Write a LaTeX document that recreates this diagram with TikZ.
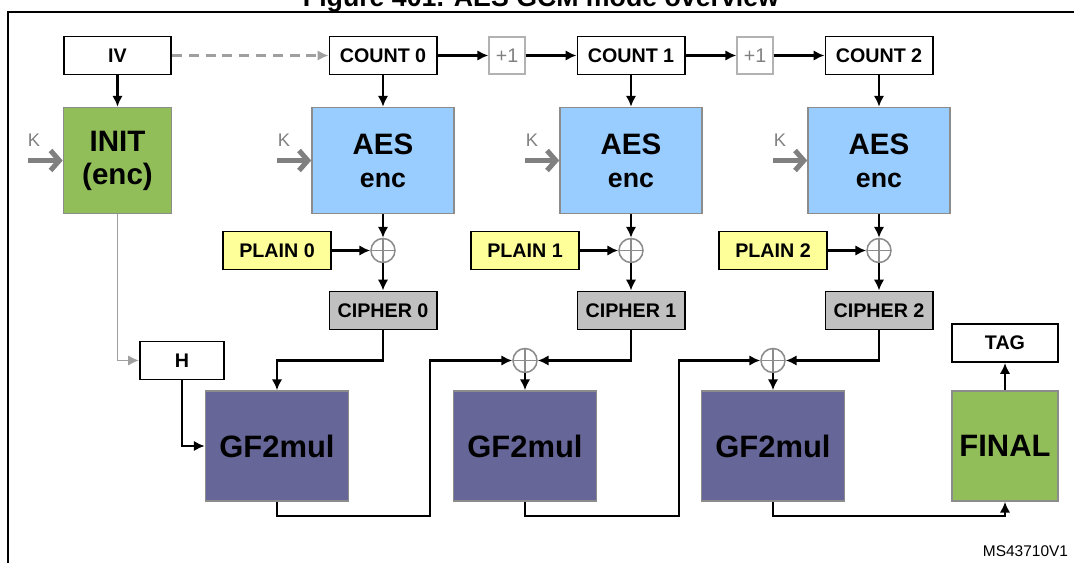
\documentclass[tikz,border=0pt]{standalone}
\usepackage{fontspec}
\setmainfont{Liberation Sans}
\usetikzlibrary{arrows.meta}
\definecolor{initgreen}{RGB}{146,190,90}
\definecolor{aesblue}{RGB}{153,204,255}
\definecolor{gfpurple}{RGB}{102,102,153}
\definecolor{plainyel}{RGB}{255,255,153}
\definecolor{ciphgray}{RGB}{192,192,192}
\definecolor{edgegray}{RGB}{140,140,140}
\tikzset{
  lbl/.style  = {draw=black, line width=1.4pt, rectangle, align=center,
                 inner sep=0pt, minimum width=2.675cm, minimum height=0.95cm,
                 font=\fontsize{14}{16}\selectfont\bfseries},
  inc/.style  = {draw=gray!60, line width=1pt, rectangle, inner sep=0pt,
                 minimum width=0.9cm, minimum height=0.925cm, text=gray,
                 font=\fontsize{14}{16}\selectfont},
  big/.style  = {draw=edgegray, line width=1.1pt, rectangle, align=center,
                 inner sep=0pt, minimum height=2.65cm,
                 font=\fontsize{21}{23.5}\selectfont\bfseries},
  xor/.style  = {circle, draw=edgegray, line width=1.1pt, minimum size=0.6cm,
                 inner sep=0pt,
                 path picture={\draw[edgegray, line width=0.9pt]
                   (path picture bounding box.north) -- (path picture bounding box.south)
                   (path picture bounding box.west) -- (path picture bounding box.east);}},
  klbl/.style = {text=gray, font=\fontsize{13}{15}\selectfont},
  ar/.style   = {-{Latex[length=2.7mm,width=2.6mm]}, line width=1.6pt},
  gar/.style  = {-{Latex[length=2.7mm,width=2.6mm]}, line width=1.4pt, draw=gray!75},
  kar/.style  = {-{Straight Barb[length=2.2mm,width=5mm]}, line width=3.6pt, draw=gray},
}
\begin{document}
\begin{tikzpicture}[x=0.025cm, y=-0.025cm]
\useasboundingbox (0,0) rectangle (1074,563);
%% ---- caption and frame -----------------------------------------------
\node[font=\fontsize{19}{22}\selectfont\bfseries, anchor=base] (title) at (541,6.5)
  {Figure 401. AES GCM mode overview};
\draw[line width=1.2pt] (1074,12) -- (8,12) -- (8,563);

%% ---- counter row -----------------------------------------------------
\node[lbl] (iv)   at (117.5,55.5) {IV};
\node[lbl] (cnt0) at (383,55.5) {COUNT 0};
\node[inc] (inc0) at (507,55.5) {+1};
\node[lbl] (cnt1) at (631,55.5) {COUNT 1};
\node[inc] (inc1) at (755,55.5) {+1};
\node[lbl] (cnt2) at (879,55.5) {COUNT 2};

%% ---- cipher blocks ---------------------------------------------------
\node[big, fill=initgreen, minimum width=2.7cm] (init) at (117.5,160.5)
  {INIT\\(enc)};
\node[big, fill=aesblue, minimum width=3.55cm] (aes0) at (383,160.5)
  {AES\\{\fontsize{19}{23.5}\selectfont enc}};
\node[big, fill=aesblue, minimum width=3.55cm] (aes1) at (631,160.5)
  {AES\\{\fontsize{19}{23.5}\selectfont enc}};
\node[big, fill=aesblue, minimum width=3.55cm] (aes2) at (879,160.5)
  {AES\\{\fontsize{19}{23.5}\selectfont enc}};

%% ---- key inputs ------------------------------------------------------
\node[klbl] (ki) at (34,140) {K};
\node[klbl] (k0) at (284,140) {K};
\node[klbl] (k1) at (532,140) {K};
\node[klbl] (k2) at (780,140) {K};
\coordinate (kin)  at (28,160.5);
\coordinate (kin0) at (277,160.5);
\coordinate (kin1) at (525,160.5);
\coordinate (kin2) at (773,160.5);

%% ---- plain text, xor, cipher text ------------------------------------
\node[lbl, fill=plainyel, minimum width=2.7cm] (pl0) at (277,250.5) {PLAIN 0};
\node[lbl, fill=plainyel, minimum width=2.7cm] (pl1) at (525,250.5) {PLAIN 1};
\node[lbl, fill=plainyel, minimum width=2.7cm] (pl2) at (773,250.5) {PLAIN 2};
\node[xor] (x0) at (383,250.5) {};
\node[xor] (x1) at (631,250.5) {};
\node[xor] (x2) at (879,250.5) {};
\node[lbl, fill=ciphgray] (ci0) at (383,310.5) {CIPHER 0};
\node[lbl, fill=ciphgray] (ci1) at (631,310.5) {CIPHER 1};
\node[lbl, fill=ciphgray] (ci2) at (879,310.5) {CIPHER 2};

%% ---- hash chain ------------------------------------------------------
\node[lbl, minimum width=2.1cm] (h) at (182,360.5) {H};
\node[xor] (y1) at (525,360.5) {};
\node[xor] (y2) at (773,360.5) {};
\node[lbl, minimum width=2.65cm] (tag) at (1005,343) {TAG};
\node[big, fill=gfpurple, minimum width=3.575cm, minimum height=2.75cm,
  font=\fontsize{22}{24}\selectfont\bfseries] (gf0) at (277,446) {GF2mul};
\node[big, fill=gfpurple, minimum width=3.575cm, minimum height=2.75cm,
  font=\fontsize{22}{24}\selectfont\bfseries] (gf1) at (525,446) {GF2mul};
\node[big, fill=gfpurple, minimum width=3.575cm, minimum height=2.75cm,
  font=\fontsize{22}{24}\selectfont\bfseries] (gf2) at (773,446) {GF2mul};
\node[big, fill=initgreen, minimum width=2.65cm, minimum height=2.75cm,
  font=\fontsize{22}{24}\selectfont\bfseries] (fin) at (1005,446) {FINAL};
\coordinate (b0) at (430,516);
\coordinate (b1) at (679,516);

\node[font=\fontsize{11}{13}\selectfont, anchor=base east] (ms) at (1073,557)
  {MS43710V1};

%% ---- arrows ----------------------------------------------------------
\draw[gar, dashed, dash pattern=on 2.5mm off 1.7mm, line width=1.7pt]
  (iv.east) -- (cnt0.west);
\draw[ar] (cnt0.east) -- (inc0.west);
\draw[ar] (inc0.east) -- (cnt1.west);
\draw[ar] (cnt1.east) -- (inc1.west);
\draw[ar] (inc1.east) -- (cnt2.west);

\draw[ar] (iv.south) -- (init.north);
\draw[ar] (cnt0.south) -- (aes0.north);
\draw[ar] (cnt1.south) -- (aes1.north);
\draw[ar] (cnt2.south) -- (aes2.north);

\draw[kar] (kin)  -- (init.west);
\draw[kar] (kin0) -- (aes0.west);
\draw[kar] (kin1) -- (aes1.west);
\draw[kar] (kin2) -- (aes2.west);

\draw[ar] (aes0.south) -- (x0.north);
\draw[ar] (aes1.south) -- (x1.north);
\draw[ar] (aes2.south) -- (x2.north);
\draw[ar] (pl0.east) -- (x0.west);
\draw[ar] (pl1.east) -- (x1.west);
\draw[ar] (pl2.east) -- (x2.west);
\draw[ar] (x0.south) -- (ci0.north);
\draw[ar] (x1.south) -- (ci1.north);
\draw[ar] (x2.south) -- (ci2.north);

\draw[gar] (init.south) |- (h.west);
\draw[ar] (h.south) |- (gf0.west);
\draw[ar] (ci0.south) |- (gf0.north |- h.east) -- (gf0.north);
\draw[ar] (ci1.south) |- (y1.east);
\draw[ar] (ci2.south) |- (y2.east);
\draw[ar] (y1.south) -- (gf1.north);
\draw[ar] (y2.south) -- (gf2.north);

\draw[ar] (gf0.south) |- (b0) |- (y1.west);
\draw[ar] (gf1.south) |- (b1) |- (y2.west);
\draw[ar] (gf2.south) |- (fin.south |- b0) -- (fin.south);
\draw[ar] (fin.north) -- (tag.south);
\end{tikzpicture}
\end{document}
